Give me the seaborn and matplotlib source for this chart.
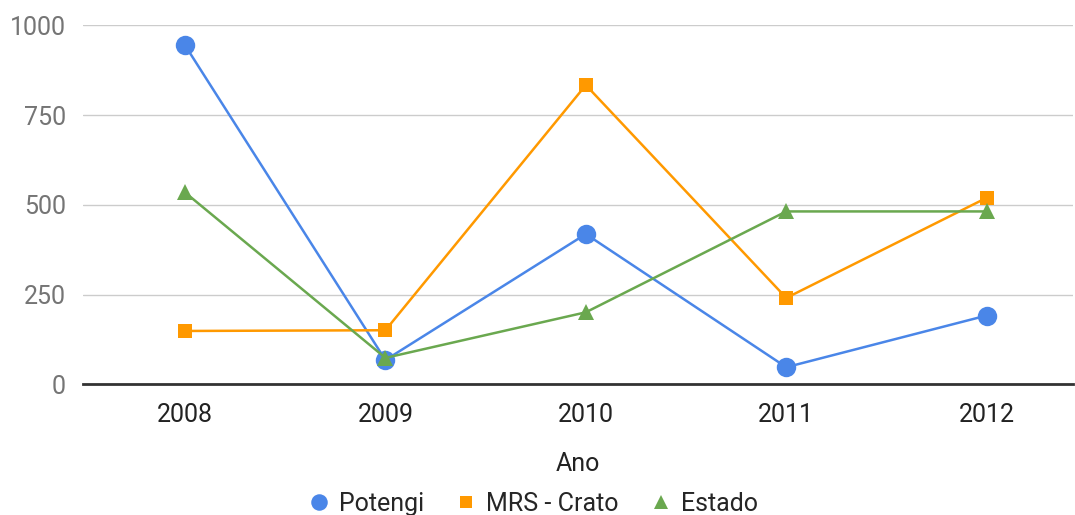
import matplotlib
matplotlib.use("Agg")
import matplotlib.pyplot as plt
from matplotlib.lines import Line2D
import pandas as pd
import seaborn as sns

# values
anos = ["2008", "2009", "2010", "2011", "2012"]
potengi = [945, 68, 419, 48, 192]
mrs_crato = [149, 151, 834, 241, 520]
estado = [535, 74, 201, 482, 482]

series_names = ["Potengi", "MRS - Crato", "Estado"]
series_values = [potengi, mrs_crato, estado]
colors = ["#4a86e8", "#ff9900", "#6aa84f"]
markers = ["o", "s", "^"]
msizes = [14, 10, 12]

sns.set_theme(style="white")
plt.rcParams["font.family"] = ["Roboto", "DejaVu Sans"]

fig = plt.figure(figsize=(10.75, 5.15), dpi=100)
ax = fig.add_axes([0.077, 0.2535, 0.921, 0.697])

for name, vals, c, m, ms in zip(series_names, series_values, colors, markers, msizes):
    df = pd.DataFrame({"Ano": anos, "valor": vals})
    sns.lineplot(data=df, x="Ano", y="valor", ax=ax, color=c, marker=m,
                 markersize=ms, markeredgewidth=0, linewidth=1.8,
                 clip_on=False, label=name, legend=False)

ax.set_ylim(0, 1000)
ax.set_xlim(-0.51, 4.43)
ax.set_yticks([0, 250, 500, 750, 1000])
ax.grid(axis="y", color="#cccccc", linewidth=1)
ax.set_axisbelow(True)
for s in ["top", "right", "left"]:
    ax.spines[s].set_visible(False)
ax.spines["bottom"].set_color("#333333")
ax.spines["bottom"].set_linewidth(2)
ax.tick_params(axis="y", labelsize=18, colors="#757575", length=0, pad=12)
ax.tick_params(axis="x", labelsize=18, labelcolor="#222222", length=0, pad=13)
ax.set_ylabel("")
ax.set_xlabel("Ano", fontsize=18, color="#222222", labelpad=18)

handles = [Line2D([], [], linestyle="none", marker=m, color=c,
                  markersize=ms * 0.85, markeredgewidth=0)
           for c, m, ms in zip(colors, markers, msizes)]
fig.legend(handles, series_names, loc="lower center", ncol=3, frameon=False,
           fontsize=18, bbox_to_anchor=(0.495, -0.045), handletextpad=0.3,
           columnspacing=1.2, handlelength=1.0)

fig.savefig("out.png", dpi=100)
